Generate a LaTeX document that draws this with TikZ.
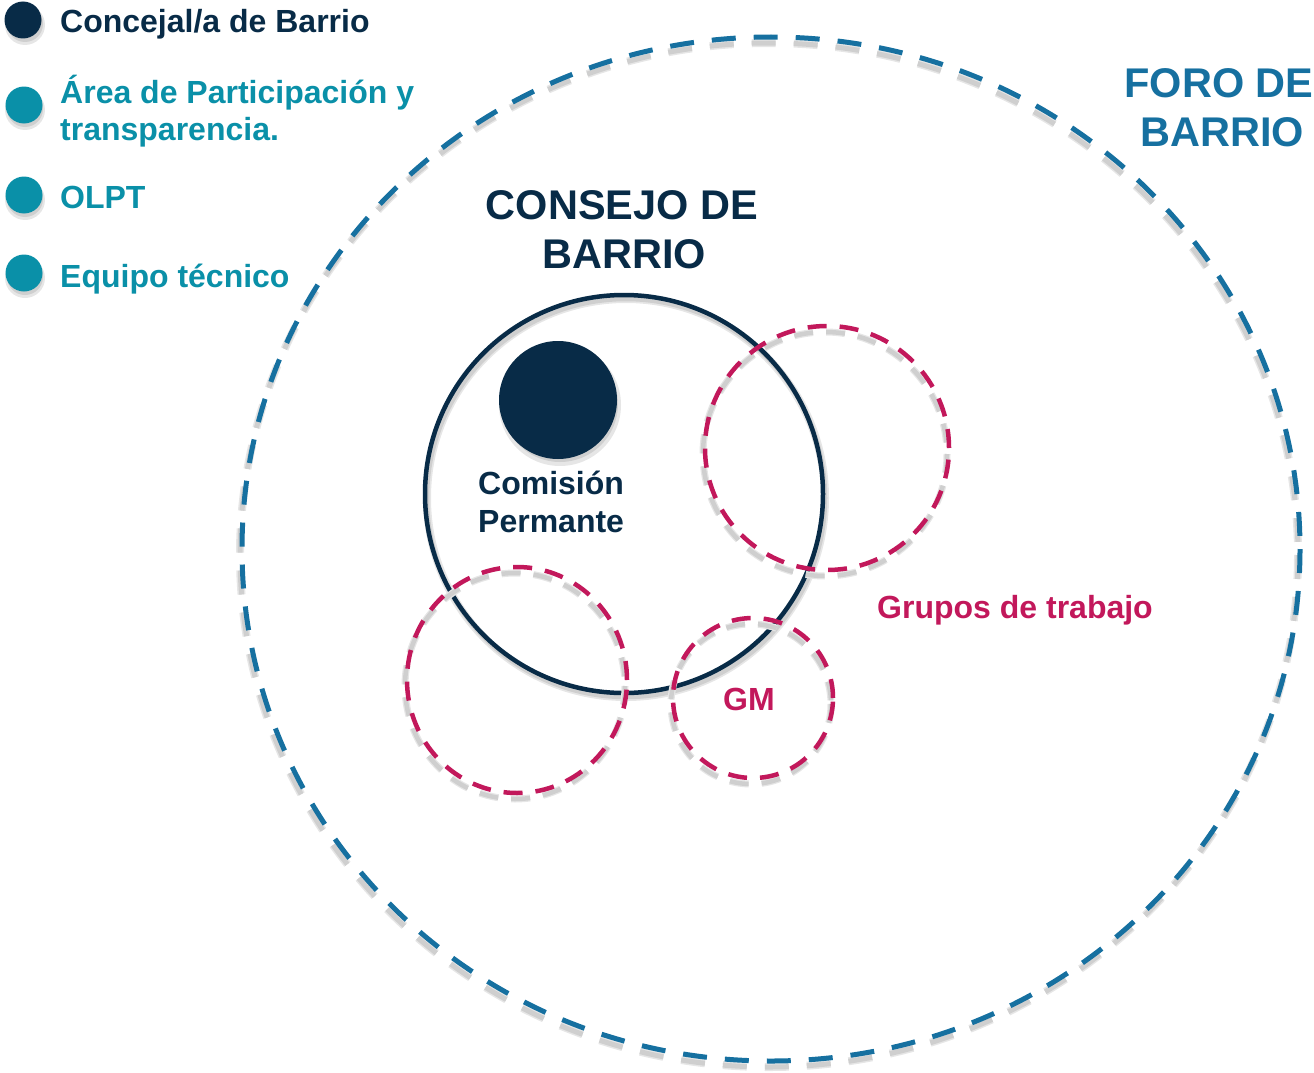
\documentclass[tikz,border=0pt]{standalone}
\usepackage{fontspec}
\setmainfont{Liberation Sans}
\usetikzlibrary{shapes.geometric}
\definecolor{navy}{HTML}{082B47}
\definecolor{teal}{HTML}{0A90A8}
\definecolor{foro}{HTML}{1670A0}
\definecolor{crim}{HTML}{C2185B}
\definecolor{shad}{HTML}{CFCFCF}
\definecolor{shadl}{HTML}{E6E6E6}
\tikzset{
  x=1pt, y=-1pt,
  lbl/.style={font=\bfseries\fontsize{32}{38}\selectfont, inner sep=0pt, anchor=base west},
  big/.style={font=\bfseries\fontsize{41.5}{48}\selectfont, inner sep=0pt, anchor=base},
  dot/.style={circle, inner sep=0pt, minimum size=37pt},
  grupo/.style={draw=crim, line width=4.5pt, dash pattern=on 19pt off 13pt},
  gshadA/.style={draw=shadl, line width=7pt, dash pattern=on 19pt off 13pt},
  gshadB/.style={draw=shad, line width=4.5pt, dash pattern=on 19pt off 13pt},
}
\begin{document}
\begin{tikzpicture}
\useasboundingbox (0,0) rectangle (1314,1073);
% Foro de barrio
\draw[shadl, line width=8pt, dash pattern=on 24pt off 18pt] (769,555) ellipse [x radius=529, y radius=512];
\draw[shad, line width=5pt, dash pattern=on 24pt off 18pt] (769,555) ellipse [x radius=529, y radius=512];
\draw[foro, line width=5pt, dash pattern=on 24pt off 18pt] (771,549) ellipse [x radius=529, y radius=512];
\node[big, text=foro] (foro1) at (1219,97) {FORO DE};
\node[big, text=foro] (foro2) at (1222,146) {BARRIO};
% Consejo de barrio
\draw[shadl, line width=8pt] (626,498) circle (199);
\draw[shad, line width=4.5pt] (626,498) circle (199);
\node[circle, draw=navy, line width=4.5pt, minimum size=398pt, inner sep=0pt] (consejo) at (624,494) {};
\node[big, text=navy] (consejo1) at (622,219) {CONSEJO DE};
\node[big, text=navy] (consejo2) at (624,268) {BARRIO};
% Comision permanente
\fill[shadl] (560,405) circle (61);
\fill[shad] (560,404) circle (58);
\node[circle, fill=navy, minimum size=118pt, inner sep=0pt] (comision) at (558,400) {};
\node[lbl, text=navy] (comision1) at (478,494) {Comisión};
\node[lbl, text=navy] (comision2) at (478,532) {Permante};
% Grupos de trabajo
\draw[gshadA] (825,454) circle (122);
\draw[gshadB] (825,454) circle (122);
\draw[gshadA] (515,686) ellipse [x radius=110, y radius=113];
\draw[gshadB] (515,686) ellipse [x radius=110, y radius=113];
\draw[gshadA] (751,704) circle (80);
\draw[gshadB] (751,704) circle (80);
\node[circle, grupo, minimum size=244pt, inner sep=0pt] (g1) at (827,448) {};
\node[ellipse, grupo, minimum width=220pt, minimum height=226pt, inner sep=0pt] (g2) at (517,680) {};
\node[circle, grupo, minimum size=160pt, inner sep=0pt] (gm) at (753,698) {};
\node[font=\bfseries\fontsize{32}{38}\selectfont, text=crim, inner sep=0pt, anchor=base] (gmT) at (749,710) {GM};
\node[lbl, text=crim] (grupos) at (877,618) {Grupos de trabajo};
% Legend
\foreach \yy in {20,105,195,273} {\fill[shadl] (25,\yy+5) circle (20); \fill[shad] (25,\yy+4) circle (18);}
\node[dot, fill=navy] (d1) at (23,20) {};
\node[dot, fill=teal] (d2) at (24,105) {};
\node[dot, fill=teal] (d3) at (24,195) {};
\node[dot, fill=teal] (d4) at (24,273) {};
\node[lbl, text=navy] (l1) at (60,33) {Concejal/a de Barrio};
\node[lbl, text=teal] (l2a) at (60,103) {Área de Participación y};
\node[lbl, text=teal] (l2b) at (60,140) {transparencia.};
\node[lbl, text=teal] (l3) at (60,208) {OLPT};
\node[lbl, text=teal] (l4) at (60,287) {Equipo técnico};
\end{tikzpicture}
\end{document}
